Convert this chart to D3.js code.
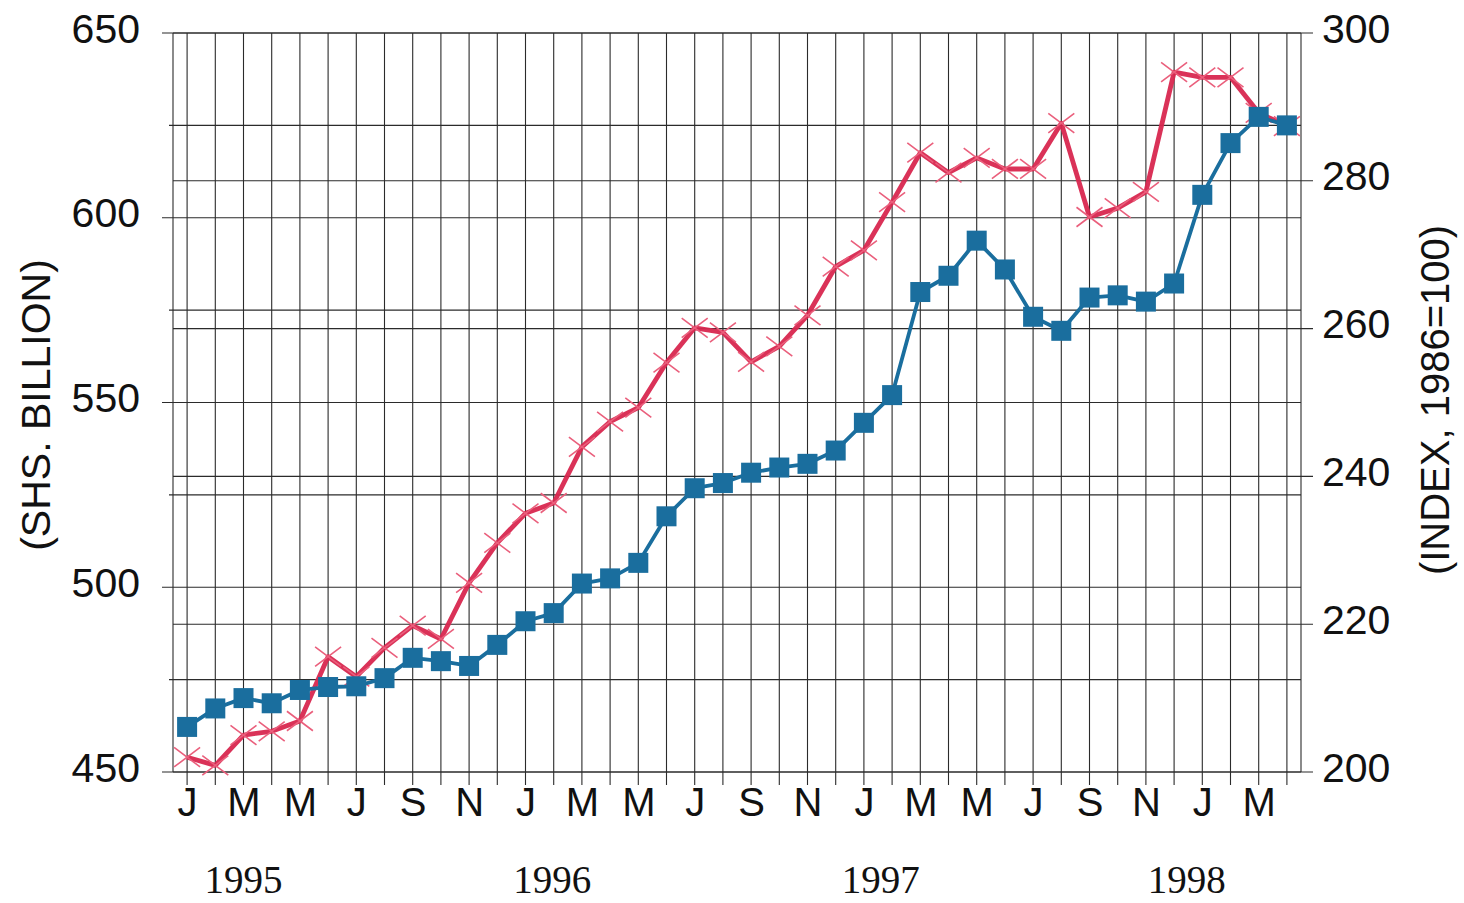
<!DOCTYPE html>
<html>
<head>
<meta charset="utf-8">
<script src="https://cdn.jsdelivr.net/npm/d3@7"></script>
<style>
  html, body { margin: 0; padding: 0; background: #ffffff; }
  svg { display: block; }
</style>
</head>
<body>
<svg id="chart" width="1464" height="903"></svg>
<script>
// ---------------- DATA ----------------
const months = [
  "1995-01","1995-02","1995-03","1995-04","1995-05","1995-06","1995-07","1995-08","1995-09","1995-10","1995-11","1995-12",
  "1996-01","1996-02","1996-03","1996-04","1996-05","1996-06","1996-07","1996-08","1996-09","1996-10","1996-11","1996-12",
  "1997-01","1997-02","1997-03","1997-04","1997-05","1997-06","1997-07","1997-08","1997-09","1997-10","1997-11","1997-12",
  "1998-01","1998-02","1998-03","1998-04"
];
const monthInitials = ["J","F","M","A","M","J","J","A","S","O","N","D"];
// Blue series (left axis, SHS. BILLION)
const shsBillion = [
  462.2, 467.2, 470.0, 468.6, 472.2, 473.0, 473.2, 475.4, 480.9, 480.0, 478.7, 484.4,
  490.8, 493.0, 501.0, 502.4, 506.6, 519.2, 526.8, 528.2, 531.0, 532.4, 533.4, 537.0,
  544.5, 552.0, 579.9, 584.3, 593.8, 586.0, 573.2, 569.4, 578.4, 579.0, 577.3, 582.2,
  606.2, 620.2, 627.3, 625.0
];
// Red series (right axis, INDEX 1986=100)
const indexValues = [
  202.0, 200.9, 205.0, 205.5, 206.9, 215.6, 212.9, 216.8, 219.8, 218.0, 225.6, 231.0,
  235.0, 236.4, 244.0, 247.4, 249.3, 255.4, 260.1, 259.5, 255.5, 257.6, 261.8, 268.4,
  270.6, 277.1, 283.8, 281.1, 283.1, 281.6, 281.6, 287.8, 275.1, 276.3, 278.5, 294.7,
  294.0, 294.0, 289.2, 287.4
];
const leftTicks = [450, 500, 550, 600, 650];
const leftGrid = [450, 475, 500, 525, 550, 575, 600, 625, 650];
const rightTicks = [200, 220, 240, 260, 280, 300];
const years = ["1995", "1996", "1997", "1998"];
const yearCenters = [2, 12.95, 24.6, 35.45]; // month index under each year label
const leftTitle = "(SHS. BILLION)";
const rightTitle = "(INDEX, 1986=100)";

// ---------------- LAYOUT ----------------
const svg = d3.select("#chart");
const X0 = 173, X1 = 1301, YT = 33, YB = 772;

const x = d3.scaleLinear().domain([-0.5, months.length - 0.5]).range([X0, X1]);
const yL = d3.scaleLinear().domain([450, 650]).range([YB, YT]);
const yR = d3.scaleLinear().domain([200, 300]).range([YB, YT]);

const gridColor = "#2b2b2b";
const g = svg.append("g");

// vertical grid lines (each month) with ticks below
g.selectAll("line.vgrid").data(months).join("line")
  .attr("x1", (d, i) => x(i)).attr("x2", (d, i) => x(i))
  .attr("y1", YT).attr("y2", YB + 13)
  .attr("stroke", gridColor).attr("stroke-width", 1.1);

// borders
[X0, X1].forEach(xx => g.append("line")
  .attr("x1", xx).attr("x2", xx).attr("y1", YT).attr("y2", YB)
  .attr("stroke", gridColor).attr("stroke-width", 1.1));

// left-axis horizontal grid lines
g.selectAll("line.lgrid").data(leftGrid).join("line")
  .attr("x1", d => leftTicks.includes(d) ? 162 : 169)
  .attr("x2", X1)
  .attr("y1", d => yL(d)).attr("y2", d => yL(d))
  .attr("stroke", gridColor).attr("stroke-width", 1.1);

// right-axis horizontal grid lines
g.selectAll("line.rgrid").data(rightTicks).join("line")
  .attr("x1", X0).attr("x2", 1313)
  .attr("y1", d => yR(d)).attr("y2", d => yR(d))
  .attr("stroke", gridColor).attr("stroke-width", 1.1);

// ---------------- AXES (labels) ----------------
const numFont = "'Liberation Sans', Arial, sans-serif";
const axL = svg.append("g").attr("transform", `translate(${X0},0)`)
  .call(d3.axisLeft(yL).tickValues(leftTicks).tickSize(0).tickPadding(33));
axL.select(".domain").remove();
axL.selectAll("text").attr("font-family", numFont).attr("font-size", 41)
  .attr("fill", "#111").attr("dy", "0.22em");

const axR = svg.append("g").attr("transform", `translate(${X1},0)`)
  .call(d3.axisRight(yR).tickValues(rightTicks).tickSize(0).tickPadding(21));
axR.select(".domain").remove();
axR.selectAll("text").attr("font-family", numFont).attr("font-size", 41)
  .attr("fill", "#111").attr("dy", "0.22em");

const axB = svg.append("g").attr("transform", `translate(0,${YB})`)
  .call(d3.axisBottom(x)
    .tickValues(d3.range(0, months.length, 2))
    .tickFormat(i => monthInitials[+months[i].slice(5) - 1])
    .tickSize(0).tickPadding(16));
axB.select(".domain").remove();
axB.selectAll("text").attr("font-family", numFont).attr("font-size", 40)
  .attr("fill", "#111").attr("dy", "0.71em");

// year labels
svg.selectAll("text.year").data(years).join("text")
  .attr("class", "year")
  .attr("x", (d, i) => x(yearCenters[i]))
  .attr("y", 893)
  .attr("text-anchor", "middle")
  .attr("font-family", "'Liberation Serif', 'Times New Roman', serif")
  .attr("font-size", 39)
  .attr("fill", "#111")
  .text(d => d);

// axis titles
svg.append("text")
  .attr("transform", "translate(50,405) rotate(-90)")
  .attr("text-anchor", "middle")
  .attr("font-family", numFont).attr("font-size", 41).attr("fill", "#111")
  .text(leftTitle);
svg.append("text")
  .attr("transform", "translate(1449,400) rotate(-90)")
  .attr("text-anchor", "middle")
  .attr("font-family", numFont).attr("font-size", 40).attr("fill", "#111")
  .text(rightTitle);

// ---------------- SERIES ----------------
const red = "#d8274f", redMark = "#ea5f7c", blue = "#1a6e9e";

// red line
const redLine = d3.line().x((d, i) => x(i)).y(d => yR(d));
svg.append("path").datum(indexValues)
  .attr("d", redLine).attr("fill", "none")
  .attr("stroke", red).attr("stroke-width", 4.8)
  .attr("stroke-linejoin", "round").attr("opacity", 0.95);

// red x markers
const xm = svg.append("g");
indexValues.forEach((v, i) => {
  const cx = x(i), cy = yR(v), s = 13;
  xm.append("path")
    .attr("d", `M${cx - s},${cy - s * 0.75}L${cx + s},${cy + s * 0.75}M${cx - s},${cy + s * 0.75}L${cx + s},${cy - s * 0.75}`)
    .attr("stroke", redMark).attr("stroke-width", 1.6).attr("fill", "none");
});

// blue line
const blueLine = d3.line().x((d, i) => x(i)).y(d => yL(d));
svg.append("path").datum(shsBillion)
  .attr("d", blueLine).attr("fill", "none")
  .attr("stroke", blue).attr("stroke-width", 3.8)
  .attr("stroke-linejoin", "round");

// blue squares
const sq = 20;
svg.selectAll("rect.bm").data(shsBillion).join("rect")
  .attr("x", (d, i) => x(i) - sq / 2)
  .attr("y", d => yL(d) - sq / 2)
  .attr("width", sq).attr("height", sq)
  .attr("fill", blue);
</script>
</body>
</html>
